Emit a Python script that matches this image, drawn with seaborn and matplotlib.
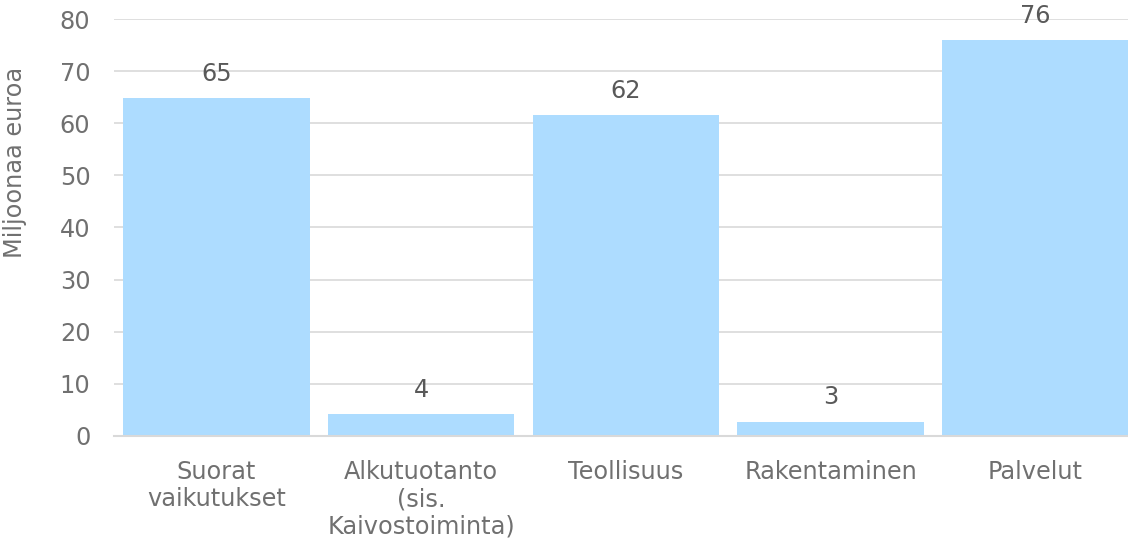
import matplotlib
matplotlib.use("Agg")
import matplotlib.pyplot as plt
import seaborn as sns
import pandas as pd

# Economic impact by sector, million euros
categories = [
    "Suorat\nvaikutukset",
    "Alkutuotanto\n(sis.\nKaivostoiminta)",
    "Teollisuus",
    "Rakentaminen",
    "Palvelut",
]
values = [64.8, 4.2, 61.6, 2.7, 76.0]
y_ticks = [0, 10, 20, 30, 40, 50, 60, 70, 80]
y_label = "Miljoonaa euroa"

sns.set_theme(style="white")
plt.rcParams["font.family"] = ["DejaVu Sans"]

df = pd.DataFrame({"sektori": categories, "arvo": values})

fig = plt.figure(figsize=(11.28, 5.4), dpi=100)
ax = fig.add_axes([114 / 1128, (540 - 435.7) / 540, 1023.6 / 1128, 416.4 / 540])
ax.set_axisbelow(True)

sns.barplot(data=df, x="sektori", y="arvo", color="#ADDCFF", saturation=1,
            width=0.91, linewidth=0, ax=ax, zorder=3)

ax.set_ylim(0, 80)
ax.set_yticks(y_ticks)
ax.set_xlim(-0.5, len(categories) - 0.5)
ax.grid(axis="y", color="#d9d9d9", linewidth=1.2, zorder=0)
ax.grid(axis="x", visible=False)
for side in ["top", "right", "left"]:
    ax.spines[side].set_visible(False)
ax.spines["bottom"].set_color("#d9d9d9")
ax.spines["bottom"].set_linewidth(1.5)
ax.spines["bottom"].set_zorder(4)

fs = 17.3
ax.tick_params(axis="y", length=0, pad=17, labelsize=fs, labelcolor="#707070")
ax.tick_params(axis="x", length=0, pad=17.5, labelsize=fs, labelcolor="#707070")
for lbl in ax.get_xticklabels():
    lbl.set_linespacing(1.18)
    lbl.set_multialignment("center")

ax.set_xlabel("")
ax.set_ylabel(y_label, fontsize=fs, color="#707070")
ax.yaxis.set_label_coords((27 - 114) / 1023.6, (435.7 - 162.5) / 416.4)

for cont in ax.containers:
    ax.bar_label(cont, fmt="{:.0f}", padding=8.8, fontsize=fs, color="#595959")

fig.savefig("out.png", dpi=100)
